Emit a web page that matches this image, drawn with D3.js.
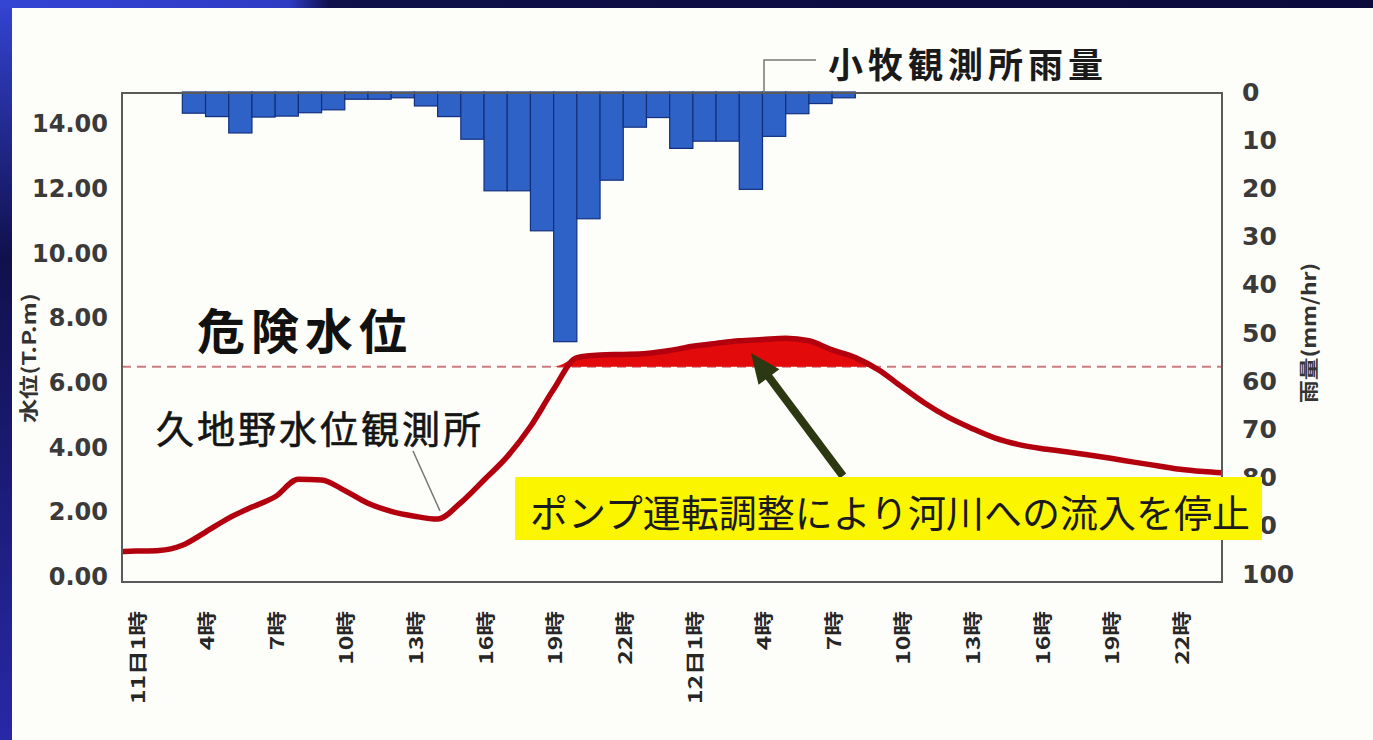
<!DOCTYPE html>
<html>
<head>
<meta charset="utf-8">
<script src="https://cdn.jsdelivr.net/npm/d3@7"></script>
<style>
  html, body { margin: 0; padding: 0; background: #fdfdf9; }
  svg { display: block; }
</style>
</head>
<body>
<svg id="chart"></svg>
<script>
// time index: 0 = 11日0時, 24 = 11日24時, 25 = 12日1時 ...
var tickHour = [1, 4, 7, 10, 13, 16, 19, 22, 25, 28, 31, 34, 37, 40, 43, 46];
var tickLabel = ["11日1時", "4時", "7時", "10時", "13時", "16時", "19時", "22時",
                 "12日1時", "4時", "7時", "10時", "13時", "16時", "19時", "22時"];

// 小牧観測所雨量 (mm/hr), rain of the hour ending at rainHour
var rainHour = [4, 5, 6, 7, 8, 9, 10, 11, 12, 13, 14, 15, 16, 17, 18, 19, 20,
                21, 22, 23, 24, 25, 26, 27, 28, 29, 30, 31, 32];
var rainMm = [4.4, 5.1, 8.5, 5.2, 5.0, 4.3, 3.7, 1.5, 1.5, 1.2, 2.9, 5.1, 9.8,
              20.5, 20.5, 28.8, 51.8, 26.3, 18.3, 7.3, 5.3, 11.7, 10.2, 10.2,
              20.2, 9.2, 4.5, 2.4, 1.2];

// 久地野水位観測所 water level (T.P.m)
var levelHour = [0, 1, 2, 3, 4, 5, 6, 7, 8, 9, 10, 11, 12, 13, 14, 15, 16, 17,
                 18, 19, 20, 21, 22, 23, 24, 25, 26, 27, 28, 29, 30, 31, 32, 33,
                 34, 35, 36, 37, 38, 39, 40, 41, 42, 43, 44, 45, 46, 47, 48];
var levelM = [0.78, 0.80, 0.82, 0.98, 1.39, 1.82, 2.16, 2.48, 3.02, 3.00, 2.67,
              2.28, 2.03, 1.88, 1.79, 2.30, 3.00, 3.72, 4.65, 5.80, 6.78, 6.86,
              6.88, 6.91, 7.00, 7.13, 7.22, 7.30, 7.34, 7.38, 7.30, 7.02, 6.78,
              6.40, 5.88, 5.37, 4.94, 4.60, 4.30, 4.10, 3.97, 3.88, 3.78, 3.67,
              3.55, 3.44, 3.33, 3.26, 3.21];

var dangerLevel = 6.5;
var leftTicks = [0, 2, 4, 6, 8, 10, 12, 14];
var rightTicks = [0, 10, 20, 30, 40, 50, 60, 70, 80, 90, 100];

// set the dimensions of the graph
var W = 1373, H = 740;
var plot = {left: 122, top: 93, right: 1222, bottom: 582};

var svg = d3.select("#chart").attr("width", W).attr("height", H);

// background + blue slide frame
var defs = svg.append("defs");
var gl = defs.append("linearGradient").attr("id", "frameL")
  .attr("x1", 0).attr("y1", 0).attr("x2", 0).attr("y2", 1);
gl.append("stop").attr("offset", "0%").attr("stop-color", "#3444d4");
gl.append("stop").attr("offset", "35%").attr("stop-color", "#10104c");
gl.append("stop").attr("offset", "100%").attr("stop-color", "#2828a8");
var gt = defs.append("linearGradient").attr("id", "frameT")
  .attr("x1", 0).attr("y1", 0).attr("x2", 1).attr("y2", 0);
gt.append("stop").attr("offset", "0%").attr("stop-color", "#3444d4");
gt.append("stop").attr("offset", "21%").attr("stop-color", "#2e3cc4");
gt.append("stop").attr("offset", "24%").attr("stop-color", "#10104a");
gt.append("stop").attr("offset", "100%").attr("stop-color", "#0b0b3c");

svg.append("rect").attr("width", W).attr("height", H).attr("fill", "#fdfdf9");
svg.append("rect").attr("x", 0).attr("y", 0).attr("width", 12).attr("height", H).attr("fill", "url(#frameL)");
svg.append("rect").attr("x", 0).attr("y", 0).attr("width", W).attr("height", 8).attr("fill", "url(#frameT)");

defs.append("clipPath").attr("id", "plotClip").append("rect")
  .attr("x", plot.left).attr("y", plot.top)
  .attr("width", plot.right - plot.left).attr("height", plot.bottom - plot.top);

// set the ranges
var x = d3.scaleLinear().domain([0.4, 47.8]).range([plot.left, plot.right]);
var yL = d3.scaleLinear().domain([0, 14]).range([577, 124]);
var yR = d3.scaleLinear().domain([0, 100]).range([92, 574]);

// rainfall bars hanging from the top
svg.append("g").selectAll("rect")
  .data(rainHour.map(function(h, i) { return {h: h, v: rainMm[i]}; }))
  .enter().append("rect")
  .attr("x", function(d) { return x(d.h - 1); })
  .attr("width", function(d) { return x(d.h) - x(d.h - 1); })
  .attr("y", yR(0))
  .attr("height", function(d) { return yR(d.v) - yR(0); })
  .attr("fill", "#2f62c6")
  .attr("stroke", "#12307e")
  .attr("stroke-width", 1.2);

// danger level dashed line
svg.append("line")
  .attr("x1", plot.left).attr("x2", plot.right)
  .attr("y1", yL(dangerLevel)).attr("y2", yL(dangerLevel))
  .attr("stroke", "#cc7b82").attr("stroke-width", 2)
  .attr("stroke-dasharray", "9,6");

var levelData = levelHour.map(function(h, i) { return {h: h, v: levelM[i]}; });

// red area above danger level
var area = d3.area()
  .x(function(d) { return x(d.h); })
  .y0(yL(dangerLevel))
  .y1(function(d) { return yL(Math.max(d.v, dangerLevel)); })
  .curve(d3.curveMonotoneX);

var valueline = d3.line()
  .x(function(d) { return x(d.h); })
  .y(function(d) { return yL(d.v); })
  .curve(d3.curveMonotoneX);

var lg = svg.append("g").attr("clip-path", "url(#plotClip)");
lg.append("path").datum(levelData).attr("d", area).attr("fill", "#e20a0a");
lg.append("path").datum(levelData).attr("d", valueline)
  .attr("fill", "none").attr("stroke", "#b3000e")
  .attr("stroke-width", 5.5).attr("stroke-linejoin", "round");

// frame
svg.append("rect")
  .attr("x", plot.left).attr("y", plot.top)
  .attr("width", plot.right - plot.left).attr("height", plot.bottom - plot.top)
  .attr("fill", "none").attr("stroke", "#5a5a5a").attr("stroke-width", 2);

// Add the left Y axis
var axL = svg.append("g").attr("transform", "translate(" + plot.left + ",0)")
  .call(d3.axisLeft(yL).tickValues(leftTicks).tickFormat(d3.format(".2f")).tickSize(0).tickPadding(14));
axL.select(".domain").remove();
axL.selectAll("text")
  .attr("font-family", "DejaVu Sans").attr("font-size", 24)
  .attr("font-weight", "bold").attr("fill", "#3a3a3a");

// Add the right Y axis
var axR = svg.append("g").attr("transform", "translate(" + plot.right + ",0)")
  .call(d3.axisRight(yR).tickValues(rightTicks).tickSize(0).tickPadding(20));
axR.select(".domain").remove();
axR.selectAll("text")
  .attr("font-family", "DejaVu Sans").attr("font-size", 25)
  .attr("font-weight", "bold").attr("fill", "#3a3a3a");

// X labels, vertical
svg.append("g").selectAll("text")
  .data(tickHour)
  .enter().append("text")
  .attr("transform", function(d) { return "translate(" + x(d) + ",611) rotate(-90) scale(1.3,1)"; })
  .attr("text-anchor", "end")
  .attr("dominant-baseline", "central")
  .attr("font-family", "Noto Sans CJK JP").attr("font-size", 19)
  .attr("font-weight", "bold").attr("fill", "#262626")
  .text(function(d, i) { return tickLabel[i]; });

// axis titles
svg.append("text")
  .attr("transform", "translate(27,358) rotate(-90)")
  .attr("text-anchor", "middle").attr("dominant-baseline", "central")
  .attr("font-family", "Noto Sans CJK JP").attr("font-size", 19)
  .attr("font-weight", "bold").attr("fill", "#333")
  .attr("textLength", 130).attr("lengthAdjust", "spacingAndGlyphs")
  .text("水位(T.P.m)");
svg.append("text")
  .attr("transform", "translate(1307,333) rotate(-90)")
  .attr("text-anchor", "middle").attr("dominant-baseline", "central")
  .attr("font-family", "Noto Sans CJK JP").attr("font-size", 19)
  .attr("font-weight", "bold").attr("fill", "#333")
  .attr("textLength", 140).attr("lengthAdjust", "spacingAndGlyphs")
  .text("雨量(mm/hr)");

// labels
svg.append("text")
  .attr("x", 197).attr("y", 328)
  .attr("dominant-baseline", "central")
  .attr("font-family", "Noto Sans CJK JP").attr("font-size", 48)
  .attr("font-weight", "bold").attr("letter-spacing", 6).attr("fill", "#111")
  .text("危険水位");

svg.append("text")
  .attr("x", 156).attr("y", 426)
  .attr("dominant-baseline", "central")
  .attr("font-family", "Noto Sans CJK JP").attr("font-size", 38)
  .attr("letter-spacing", 3).attr("fill", "#151515")
  .attr("stroke", "#151515").attr("stroke-width", 0.6)
  .text("久地野水位観測所");
svg.append("line")
  .attr("x1", 413).attr("y1", 451).attr("x2", 440).attr("y2", 511)
  .attr("stroke", "#777").attr("stroke-width", 1.5);

svg.append("polyline")
  .attr("points", "764,93 764,60 816,60")
  .attr("fill", "none").attr("stroke", "#777").attr("stroke-width", 1.5);
svg.append("text")
  .attr("x", 828).attr("y", 62)
  .attr("dominant-baseline", "central")
  .attr("font-family", "Noto Sans CJK JP").attr("font-size", 35)
  .attr("font-weight", "bold").attr("letter-spacing", 5).attr("fill", "#1a1a1a")
  .text("小牧観測所雨量");

// arrow
var tail = [843, 476], tip = [751, 353];
var dx = tip[0] - tail[0], dy = tip[1] - tail[1];
var len = Math.sqrt(dx * dx + dy * dy);
var ux = dx / len, uy = dy / len, px = -uy, py = ux;
var headLen = 30, headW = 13;
var base = [tip[0] - ux * headLen, tip[1] - uy * headLen];
svg.append("line")
  .attr("x1", tail[0]).attr("y1", tail[1]).attr("x2", base[0] + ux * 4).attr("y2", base[1] + uy * 4)
  .attr("stroke", "#2b3812").attr("stroke-width", 8);
svg.append("polygon")
  .attr("points", [tip, [base[0] + px * headW, base[1] + py * headW], [base[0] - px * headW, base[1] - py * headW]]
    .map(function(p) { return p.join(","); }).join(" "))
  .attr("fill", "#2b3812");

// yellow note (covers part of the right axis, as in the original slide)
svg.append("rect")
  .attr("x", 515).attr("y", 477).attr("width", 747).attr("height", 63)
  .attr("fill", "#fbf500");
svg.append("text")
  .attr("x", 530).attr("y", 510)
  .attr("dominant-baseline", "central")
  .attr("font-family", "Noto Sans CJK JP").attr("font-size", 38)
  .attr("fill", "#1a1a1a")
  .attr("textLength", 720).attr("lengthAdjust", "spacingAndGlyphs")
  .text("ポンプ運転調整により河川への流入を停止");
</script>
</body>
</html>
